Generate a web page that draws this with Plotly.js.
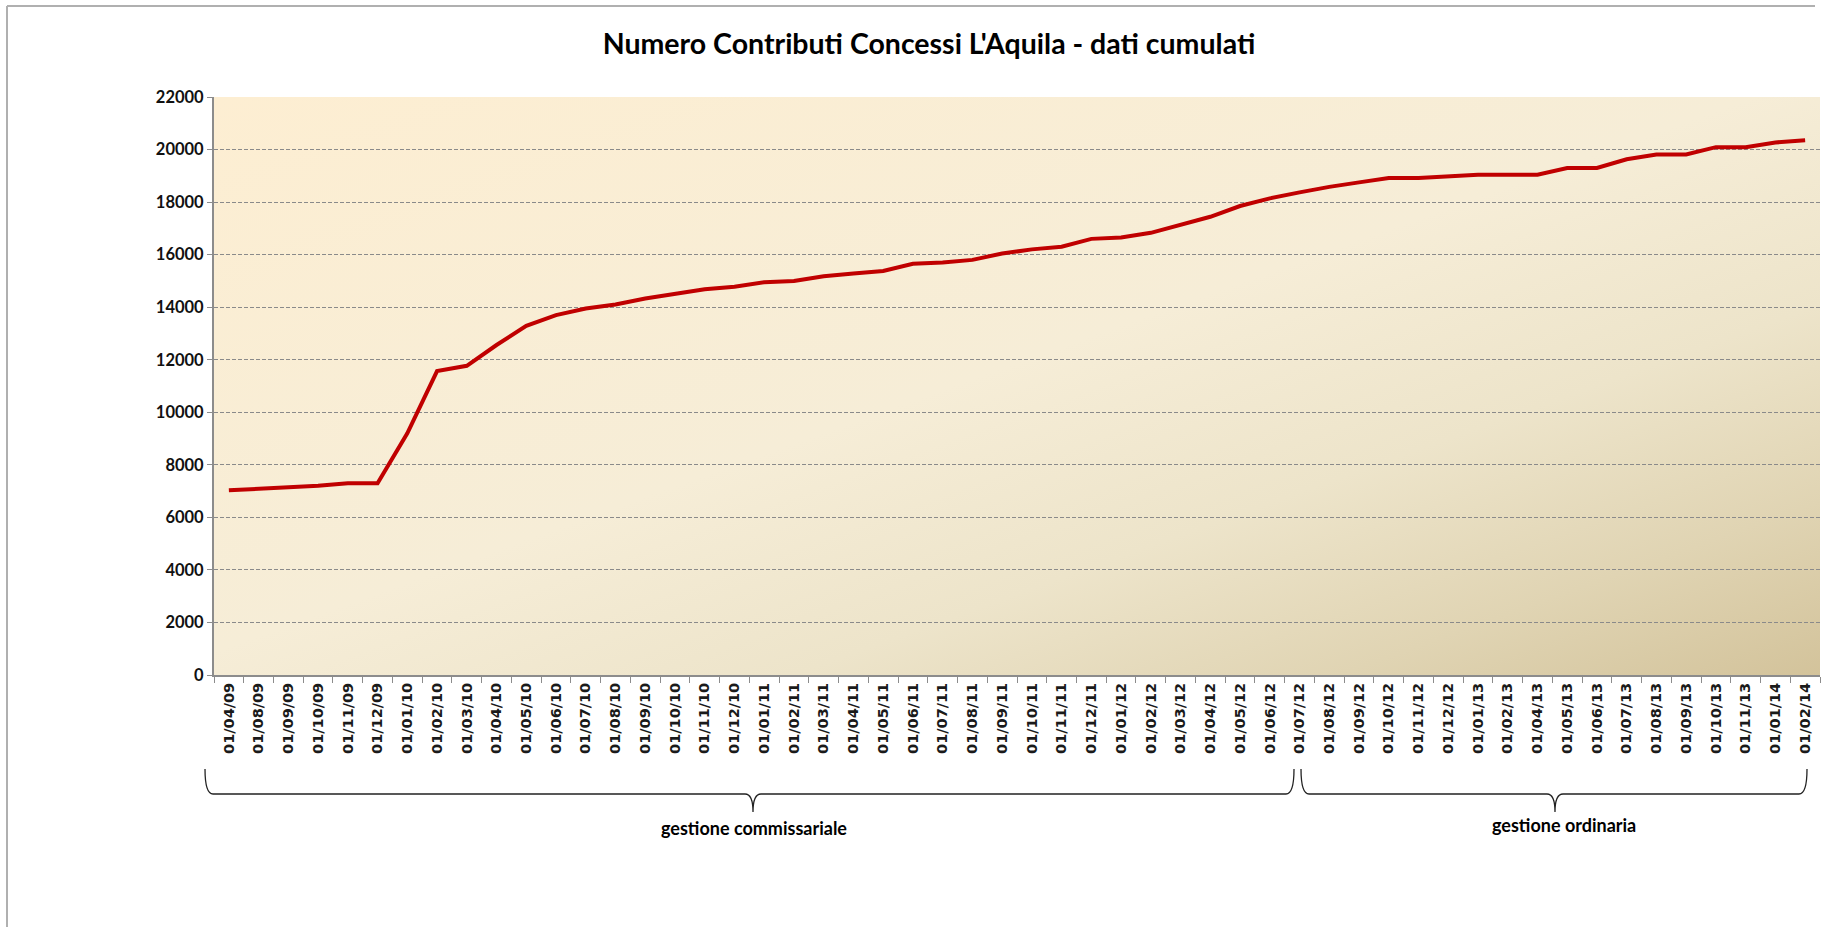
<!DOCTYPE html>
<html>
<head>
<meta charset="utf-8">
<script src="https://cdn.plot.ly/plotly-3.0.1.min.js"></script>
<style>
html,body{margin:0;padding:0;background:#fff;}
#chart{width:1828px;height:927px;}
</style>
</head>
<body>
<div id="chart"></div>
<script>
// ---- Data ----
const dates = [
  "01/04/09","01/08/09","01/09/09","01/10/09","01/11/09","01/12/09",
  "01/01/10","01/02/10","01/03/10","01/04/10","01/05/10","01/06/10","01/07/10","01/08/10","01/09/10","01/10/10","01/11/10","01/12/10",
  "01/01/11","01/02/11","01/03/11","01/04/11","01/05/11","01/06/11","01/07/11","01/08/11","01/09/11","01/10/11","01/11/11","01/12/11",
  "01/01/12","01/02/12","01/03/12","01/04/12","01/05/12","01/06/12","01/07/12","01/08/12","01/09/12","01/10/12","01/11/12","01/12/12",
  "01/01/13","01/02/13","01/04/13","01/05/13","01/06/13","01/07/13","01/08/13","01/09/13","01/10/13","01/11/13",
  "01/01/14","01/02/14"
];
const contributi = [
  7030, 7080, 7140, 7200, 7300, 7300,
  9200, 11570, 11770, 12560, 13290, 13700, 13950, 14100, 14330, 14500, 14680, 14780,
  14950, 15000, 15180, 15280, 15380, 15650, 15700, 15800, 16040, 16200, 16300, 16600,
  16650, 16830, 17150, 17440, 17850, 18140, 18370, 18580, 18750, 18920, 18920, 18970,
  19040, 19040, 19040, 19300, 19300, 19630, 19810, 19810, 20090, 20090,
  20270, 20350
];
const periodLabels = ["gestione commissariale", "gestione ordinaria"];
const chartTitle = "Numero Contributi Concessi L'Aquila - dati cumulati";

// ---- Layout helpers (pixel -> paper) ----
const W = 1828, H = 927;
const M = {l: 214, r: 8, t: 97, b: 252};
const PW = W - M.l - M.r, PH = H - M.t - M.b;
const px = x => ((x - M.l) / PW).toFixed(5);
const py = y => ((H - M.b - y) / PH).toFixed(5);

function brace(L, R, tip, top, mid, bottom) {
  const r = 8;
  return "M " + px(L) + "," + py(top) +
    " Q " + px(L) + "," + py(mid) + " " + px(L + r) + "," + py(mid) +
    " L " + px(tip - r) + "," + py(mid) +
    " Q " + px(tip) + "," + py(mid) + " " + px(tip) + "," + py(bottom) +
    " Q " + px(tip) + "," + py(mid) + " " + px(tip + r) + "," + py(mid) +
    " L " + px(R - r) + "," + py(mid) +
    " Q " + px(R) + "," + py(mid) + " " + px(R) + "," + py(top);
}

const gradSvg = '<svg xmlns="http://www.w3.org/2000/svg" width="100" height="100" viewBox="0 0 100 100" preserveAspectRatio="none">' +
  '<defs><linearGradient id="g" x1="0" y1="0" x2="1" y2="1">' +
  '<stop offset="0" stop-color="#fdeed2"/>' +
  '<stop offset="0.48" stop-color="#f6edd7"/>' +
  '<stop offset="0.68" stop-color="#ede4ca"/>' +
  '<stop offset="0.85" stop-color="#e0d4b3"/>' +
  '<stop offset="1" stop-color="#d3c39b"/>' +
  '</linearGradient></defs><rect x="0" y="0" width="100" height="100" fill="url(#g)"/></svg>';
const gradUri = 'data:image/svg+xml;charset=utf-8,' + encodeURIComponent(gradSvg);

const trace = {
  x: dates,
  y: contributi,
  type: 'scatter',
  mode: 'lines',
  line: {color: '#c00000', width: 4},
  hoverinfo: 'x+y',
  showlegend: false
};

const layout = {
  width: W, height: H,
  margin: M,
  paper_bgcolor: '#ffffff',
  plot_bgcolor: 'rgba(0,0,0,0)',
  title: {
    text: chartTitle,
    font: {family: 'Lato, "Open Sans", sans-serif', size: 28.5, color: '#000', weight: 'bold'},
    x: 929 / W, xref: 'container', xanchor: 'center',
    y: 1 - 44 / H, yref: 'container', yanchor: 'middle'
  },
  xaxis: {
    type: 'category',
    showgrid: false,
    showline: true, linecolor: '#8c8c8c', linewidth: 2,
    ticks: 'outside', tickson: 'boundaries', ticklen: 6, tickcolor: '#8c8c8c', tickwidth: 1,
    tickangle: -90,
    tickfont: {family: '"DejaVu Sans", Verdana, sans-serif', size: 14.5, color: '#1a1a1a', weight: 'bold'},
    range: [-0.5, dates.length - 0.5],
    zeroline: false,
    fixedrange: true
  },
  yaxis: {
    range: [0, 22000], dtick: 2000, tick0: 0, tickformat: 'd',
    showgrid: true, gridcolor: '#8a8a8a', gridwidth: 1, griddash: '4px,2px',
    showline: true, linecolor: '#8c8c8c', linewidth: 2,
    ticks: 'outside', ticklen: 5, tickcolor: '#8c8c8c',
    tickfont: {family: 'Lato, "Open Sans", sans-serif', size: 16.5, color: '#111', weight: 'bold'},
    zeroline: false,
    fixedrange: true
  },
  images: [{
    source: gradUri, xref: 'paper', yref: 'paper',
    x: 0, y: 1, sizex: 1, sizey: 1, xanchor: 'left', yanchor: 'top',
    sizing: 'stretch', layer: 'below'
  }],
  shapes: [
    {type: 'path', xref: 'paper', yref: 'paper', path: brace(205, 1294, 753, 769, 794, 812), line: {color: '#222', width: 1.3}},
    {type: 'path', xref: 'paper', yref: 'paper', path: brace(1301, 1807, 1555, 769, 794, 812), line: {color: '#222', width: 1.3}},
    {type: 'line', xref: 'paper', yref: 'paper', x0: px(7), x1: px(7), y0: py(6), y1: py(927), line: {color: '#b0b0b0', width: 2}},
    {type: 'line', xref: 'paper', yref: 'paper', x0: px(7), x1: px(1815), y0: py(6), y1: py(6), line: {color: '#b0b0b0', width: 2}}
  ],
  annotations: [
    {text: periodLabels[0], xref: 'paper', yref: 'paper', x: px(754), y: py(828), xanchor: 'center', yanchor: 'middle', showarrow: false,
     font: {family: 'Lato, "Open Sans", sans-serif', size: 18, color: '#000', weight: 'bold'}},
    {text: periodLabels[1], xref: 'paper', yref: 'paper', x: px(1564), y: py(825), xanchor: 'center', yanchor: 'middle', showarrow: false,
     font: {family: 'Lato, "Open Sans", sans-serif', size: 18, color: '#000', weight: 'bold'}}
  ]
};

Plotly.newPlot('chart', [trace], layout, {displayModeBar: false, responsive: false});
</script>
</body>
</html>
